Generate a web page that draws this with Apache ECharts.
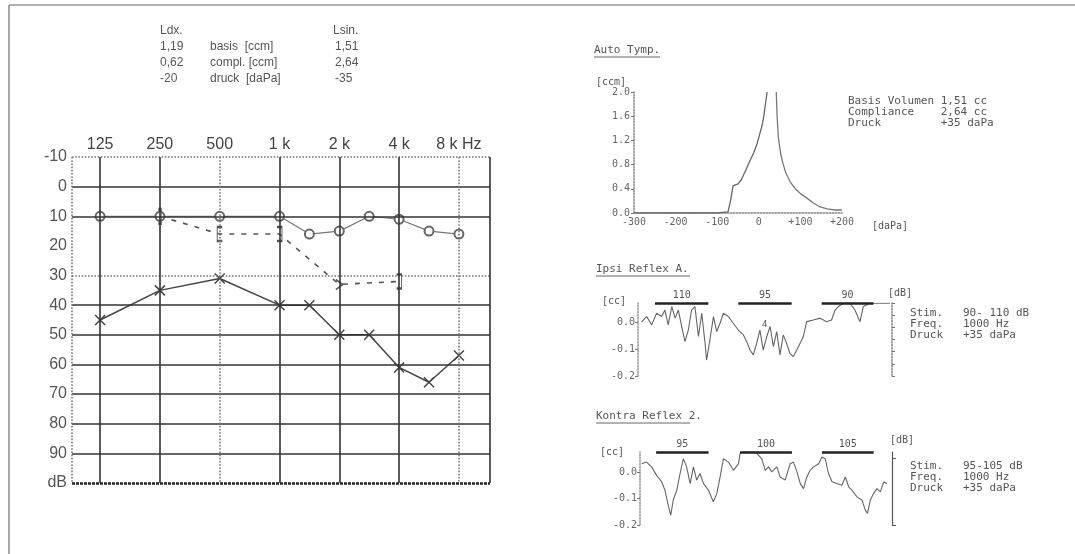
<!DOCTYPE html>
<html><head><meta charset="utf-8">
<script src="https://cdn.jsdelivr.net/npm/echarts@6/dist/echarts.min.js"></script>
<style>html,body{margin:0;padding:0;background:#fff}#c{width:1075px;height:554px}</style>
</head><body><div id="c"></div><script>
// ---------- DATA ----------
const freqLabels = ['125','250','500','1 k','2 k','4 k','8 k Hz'];
const octaveFreqs = [125,250,500,1000,2000,4000,8000];
const dbTicks = [-10,0,10,20,30,40,50,60,70,80,90,100];
const rightFreqs = [125,250,500,1000,1500,2000,3000,4000,6000,8000];
const rightDb    = [10,10,10,10,16,15,10,11,15,16];
const leftFreqs  = [125,250,500,1000,1500,2000,3000,4000,6000,8000];
const leftDb     = [45,35,31,40,40,50,50,61,66,57];
const boneFreqs  = [250,500,1000,2000,4000];
const boneDb     = [10,16,16,33,32];
const boneMarks  = ['bar','lb','rb','gt','rb'];

const tympLeftP  = [-300,-200,-100,-74,-68,-62,-50,-42,-32,-22,-12,-4,2,8,12,16,20];
const tympLeftV  = [0.0,0.0,0.0,0.02,0.2,0.45,0.48,0.55,0.7,0.85,1.0,1.15,1.3,1.45,1.6,1.8,2.0];
const tympRightP = [42,44,47,52,58,65,75,88,100,115,130,147,165,180,200];
const tympRightV = [2.0,1.6,1.25,1.0,0.82,0.66,0.52,0.4,0.32,0.25,0.17,0.1,0.07,0.05,0.05];
const tympYTicks = [0,0.4,0.8,1.2,1.6,2.0];

const ipsiT = [1.4,3.4,5.4,7.3,9.3,10.6,11.9,13.3,14.6,15.9,17.2,18.5,19.8,21.1,22.4,23.8,25.1,26.4,27.0,28.3,29.7,31.0,32.3,33.6,35.6,37.5,39.5,41.5,42.8,44.1,45.4,46.7,48.0,49.3,50.7,52.0,53.3,54.6,55.9,57.2,58.5,59.8,61.2,62.5,63.8,65.1,66.4,69.0,71.7,74.3,76.2,77.6,78.9,80.8,83.5,85.4,87.4,88.7,91.3,95.3,99.2];
const ipsiV = [0.0,0.02,-0.011,0.032,0.02,0.044,-0.011,0.057,0.014,0.044,-0.017,-0.073,-0.03,0.044,0.057,-0.054,0.032,-0.079,-0.141,-0.067,0.02,-0.036,-0.005,0.032,0.02,-0.005,-0.03,-0.048,-0.073,-0.104,-0.122,-0.079,-0.03,-0.104,-0.054,-0.017,-0.091,-0.036,-0.122,-0.048,-0.079,-0.116,-0.128,-0.104,-0.079,-0.054,0.001,0.007,0.014,0.001,0.007,0.044,0.057,0.069,0.069,0.044,0.001,0.057,0.069,0.069,0.069];
const ipsiBarStart = [6.7,39.5,72.3];
const ipsiBarEnd   = [27.7,60.5,92.7];
const ipsiBarLabels = ['110','95','90'];

const kontraT = [0.7,2.6,4.6,6.6,8.6,9.9,11.3,12.2,13.2,14.6,15.9,17.2,18.5,19.9,21.2,22.5,23.8,25.2,27.2,29.1,30.5,31.8,33.1,35.1,37.1,39.1,39.7,41.1,43.7,46.4,48.3,49.7,51.0,52.3,54.3,55.6,57.6,59.6,60.9,62.3,63.6,64.9,66.2,67.5,68.9,70.9,72.2,73.5,74.8,76.2,78.1,80.1,81.5,82.8,84.1,86.1,88.1,89.4,90.3,91.4,92.7,94.0,95.4,96.7,98.0];
const kontraV = [0.031,0.037,0.019,-0.013,-0.037,-0.069,-0.131,-0.163,-0.106,-0.069,-0.006,0.05,0.019,-0.044,0.019,-0.031,-0.006,-0.044,-0.069,-0.113,-0.081,-0.019,0.05,0.037,0.006,0.031,0.069,0.075,0.081,0.069,0.05,0.006,0.019,0.0,0.019,-0.019,-0.031,0.031,0.037,0.0,-0.044,-0.063,-0.019,0.006,0.019,0.031,0.056,0.05,-0.006,-0.037,-0.044,-0.05,-0.019,-0.056,-0.069,-0.094,-0.106,-0.144,-0.156,-0.106,-0.081,-0.063,-0.075,-0.038,-0.044];
const kontraBarStart = [6.4,39.7,72.2];
const kontraBarEnd   = [27.2,60.3,92.7];
const kontraBarLabels = ['95','100','105'];
const reflexYLabels = [0,-0.1,-0.2];

// ---------- HELPERS ----------
function fpos(f){
  for (let i=0;i<octaveFreqs.length-1;i++){
    if (f>=octaveFreqs[i] && f<=octaveFreqs[i+1]) return i+(f-octaveFreqs[i])/(octaveFreqs[i+1]-octaveFreqs[i]);
  }
  return octaveFreqs.length-1;
}
const MONO = 'DejaVu Sans Mono';
const SANS = 'Liberation Sans';
const solid = {color:'#333', width:1.6, type:'solid'};
const dotted = {color:'#777', width:1.6, type:'dotted'};
const hStyle = {'-10':dotted,'0':solid,'10':solid,'30':dotted,'40':solid,'50':solid,'60':solid,'70':solid,'80':solid,'90':solid,'100':{color:'#222',width:2.6,type:[3,1]}};
const vStyle = [solid,solid,dotted,solid,solid,solid,dotted];
const X_MIN=-0.47, X_MAX=6.52;

const gridMark = [];
dbTicks.forEach(d=>{ if (hStyle[d]) gridMark.push({yAxis:d, lineStyle:hStyle[d]}); });
octaveFreqs.forEach((f,i)=>gridMark.push({xAxis:fpos(f), lineStyle:vStyle[i]}));
gridMark.push({xAxis:X_MIN, lineStyle:dotted});
gridMark.push({xAxis:X_MAX, lineStyle:solid});

const symMap = {
  bar:'path://M0,0L3,0L3,16L0,16',
  lb:'path://M6,0L0,0L0,16L6,16',
  rb:'path://M0,0L6,0L6,16L0,16',
  gt:'path://M0,0L8,6L0,12'
};
const symSize = {bar:[3,14],lb:[5,14],rb:[5,14],gt:[7,10]};

function barMarks(starts, ends, labels, y){
  return starts.map((s,i)=>[{coord:[s,y], name:labels[i]},{coord:[ends[i],y]}]);
}
function pairs(a,b){ return a.map((v,i)=>[v,b[i]]); }

const txt = (x,y,t)=>({type:'text', x, y, style:{text:t, fill:'#555', font:'12px "'+SANS+'"', textVerticalAlign:'middle'}});
const mono = (x,y,t,size)=>({type:'text', x, y, style:{text:t, fill:'#555', font:(size||11)+'px "'+MONO+'"', textVerticalAlign:'middle'}});
const uline = (x1,x2,y)=>({type:'line', shape:{x1,y1:y,x2,y2:y}, style:{stroke:'#666', lineWidth:1}});

const option = {
  animation:false,
  backgroundColor:'#fff',
  grid:[
    {left:72, top:157, width:418, height:326},
    {left:634, top:92, width:208, height:121},
    {left:638, top:303, width:254, height:73},
    {left:640, top:452, width:252, height:73}
  ],
  xAxis:[
    {gridIndex:0, type:'value', min:X_MIN, max:X_MAX, position:'top',
     axisLine:{show:false}, axisTick:{show:false}, splitLine:{show:false},
     axisLabel:{customValues:[0,1,2,3,4,5,6], formatter:v=>freqLabels[Math.round(v)], color:'#444', fontFamily:SANS, fontSize:16, margin:4}},
    {gridIndex:1, type:'value', min:-300, max:200, interval:100,
     axisLine:{onZero:false, lineStyle:{color:'#888', type:'dotted', width:1.5}}, axisTick:{show:false}, splitLine:{show:false},
     axisLabel:{formatter:v=>v>0?'+'+v:String(v), color:'#666', fontFamily:MONO, fontSize:10, margin:4}},
    {gridIndex:2, type:'value', min:0, max:100, show:false},
    {gridIndex:3, type:'value', min:0, max:100, show:false}
  ],
  yAxis:[
    {gridIndex:0, type:'value', inverse:true, min:-10, max:100, interval:10,
     axisLine:{show:false}, axisTick:{show:false}, splitLine:{show:false},
     axisLabel:{formatter:v=>v===100?'dB':String(v), color:'#555', fontFamily:SANS, fontSize:16, margin:5}},
    {gridIndex:1, type:'value', min:0, max:2.0,
     axisLine:{show:true, onZero:false, lineStyle:{color:'#888', type:'dotted', width:1.5}},
     axisTick:{show:true, customValues:tympYTicks, length:3, lineStyle:{color:'#777'}}, splitLine:{show:false},
     axisLabel:{customValues:tympYTicks, formatter:v=>v.toFixed(1), color:'#666', fontFamily:MONO, fontSize:10, margin:4}},
    {gridIndex:2, type:'value', min:-0.2, max:0.07,
     axisLine:{show:true, onZero:false, lineStyle:{color:'#999', type:'dotted', width:1.5}},
     axisTick:{show:true, customValues:reflexYLabels, length:3, lineStyle:{color:'#777'}}, splitLine:{show:false},
     axisLabel:{customValues:reflexYLabels, formatter:v=>v.toFixed(1), color:'#666', fontFamily:MONO, fontSize:10, margin:3}},
    {gridIndex:2, type:'value', min:-0.2, max:0.07, position:'right',
     axisLine:{show:true, onZero:false, lineStyle:{color:'#888', type:'dotted', width:1.5}},
     axisTick:{show:true, customValues:[0.07,0.025,-0.02,-0.065,-0.11,-0.155,-0.2], length:3, lineStyle:{color:'#777'}},
     axisLabel:{show:false}, splitLine:{show:false}},
    {gridIndex:3, type:'value', min:-0.2, max:0.075,
     axisLine:{show:true, onZero:false, lineStyle:{color:'#999', type:'dotted', width:1.5}},
     axisTick:{show:true, customValues:reflexYLabels, length:3, lineStyle:{color:'#777'}}, splitLine:{show:false},
     axisLabel:{customValues:reflexYLabels, formatter:v=>v.toFixed(1), color:'#666', fontFamily:MONO, fontSize:10, margin:3}},
    {gridIndex:3, type:'value', min:-0.2, max:0.075, position:'right',
     axisLine:{show:true, onZero:false, lineStyle:{color:'#555', width:1.2}},
     axisTick:{show:true, customValues:[0.05,-0.2], length:4, lineStyle:{color:'#555'}},
     axisLabel:{show:false}, splitLine:{show:false}}
  ],
  series:[
    {type:'line', xAxisIndex:0, yAxisIndex:0, silent:true, data:[], 
     markLine:{silent:true, symbol:['none','none'], label:{show:false}, data:gridMark}},
    {type:'line', xAxisIndex:0, yAxisIndex:0, silent:true,
     data:pairs(rightFreqs.map(fpos), rightDb), symbol:'emptyCircle', symbolSize:9,
     lineStyle:{color:'#777', width:1.2}, itemStyle:{color:'#666', borderWidth:1.2}},
    {type:'line', xAxisIndex:0, yAxisIndex:0, silent:true,
     data:pairs(leftFreqs.map(fpos), leftDb), symbol:'path://M0,0L10,10M10,0L0,10', symbolSize:10,
     lineStyle:{color:'#444', width:1.5}, itemStyle:{color:'rgba(0,0,0,0)', borderColor:'#444', borderWidth:1.5}},
    {type:'line', xAxisIndex:0, yAxisIndex:0, silent:true,
     data:boneFreqs.map((f,i)=>({value:[fpos(f), boneDb[i]], symbol:symMap[boneMarks[i]], symbolSize:symSize[boneMarks[i]]})),
     lineStyle:{color:'#555', width:1.6, type:[5,7]}, itemStyle:{color:'rgba(0,0,0,0)', borderColor:'#555', borderWidth:1.5}},
    {type:'line', xAxisIndex:1, yAxisIndex:1, silent:true, showSymbol:false,
     data:pairs(tympLeftP,tympLeftV), lineStyle:{color:'#666', width:1.3}},
    {type:'line', xAxisIndex:1, yAxisIndex:1, silent:true, showSymbol:false,
     data:pairs(tympRightP,tympRightV), lineStyle:{color:'#777', width:1.3}},
    {type:'line', xAxisIndex:2, yAxisIndex:2, silent:true, showSymbol:false,
     data:pairs(ipsiT,ipsiV), lineStyle:{color:'#666', width:1.1},
     markLine:{silent:true, symbol:['none','none'], lineStyle:{color:'#222', width:2.5, type:'solid'},
       label:{show:true, position:'middle', formatter:'{b}', color:'#555', fontFamily:MONO, fontSize:10, distance:3},
       data:barMarks(ipsiBarStart, ipsiBarEnd, ipsiBarLabels, 0.069)}},
    {type:'line', xAxisIndex:3, yAxisIndex:4, silent:true, showSymbol:false,
     data:pairs(kontraT,kontraV), lineStyle:{color:'#666', width:1.1},
     markLine:{silent:true, symbol:['none','none'], lineStyle:{color:'#222', width:2.5, type:'solid'},
       label:{show:true, position:'middle', formatter:'{b}', color:'#555', fontFamily:MONO, fontSize:10, distance:3},
       data:barMarks(kontraBarStart, kontraBarEnd, kontraBarLabels, 0.075)}}
  ],
  graphic:[
    {type:'line', shape:{x1:9,y1:5,x2:1075,y2:5}, style:{stroke:'#999', lineWidth:1.5}},
    {type:'line', shape:{x1:9,y1:5,x2:9,y2:554}, style:{stroke:'#888', lineWidth:1.5}},
    txt(160,31,'Ldx.'), txt(333,31,'Lsin.'),
    txt(160,47,'1,19'), txt(210,47,'basis  [ccm]'), txt(335,47,'1,51'),
    txt(160,63,'0,62'), txt(210,63,'compl. [ccm]'), txt(335,63,'2,64'),
    txt(160,79,'-20'), txt(210,79,'druck  [daPa]'), txt(335,79,'-35'),
    mono(594,50,'Auto Tymp.',11), uline(594,660,57),
    mono(596,82,'[ccm]',10),
    mono(872,226,'[daPa]',10),
    mono(848,101,'Basis Volumen 1,51 cc',11),
    mono(848,112,'Compliance    2,64 cc',11),
    mono(848,123,'Druck         +35 daPa',11),
    mono(596,269,'Ipsi Reflex A.',11), uline(596,690,276),
    mono(602,301,'[cc]',10),
    mono(888,293,'[dB]',10),
    mono(762,325,'4',9),
    mono(910,313,'Stim.   90- 110 dB',11),
    mono(910,324,'Freq.   1000 Hz',11),
    mono(910,335,'Druck   +35 daPa',11),
    mono(596,416,'Kontra Reflex 2.',11), uline(596,690,423),
    mono(600,452,'[cc]',10),
    mono(890,440,'[dB]',10),
    mono(910,466,'Stim.   95-105 dB',11),
    mono(910,477,'Freq.   1000 Hz',11),
    mono(910,488,'Druck   +35 daPa',11)
  ]
};
const chart = echarts.init(document.getElementById('c'), null, {renderer:'canvas'});
chart.setOption(option);
</script></body></html>
